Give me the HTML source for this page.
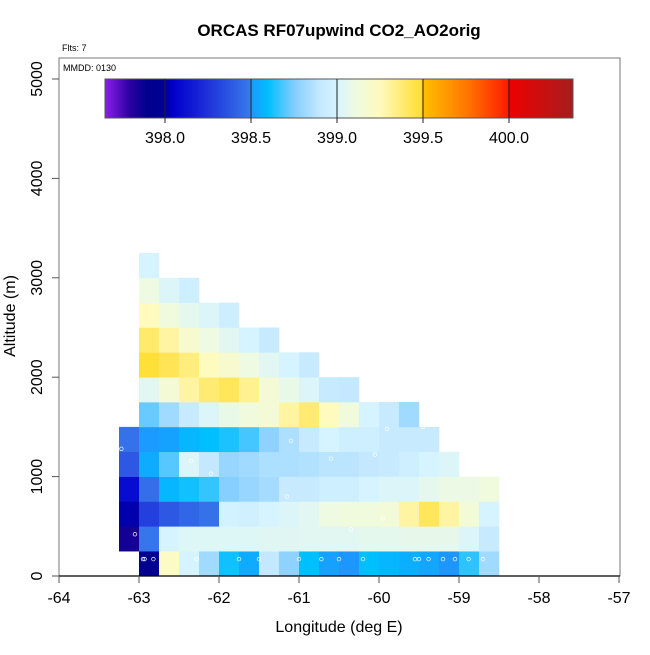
<!DOCTYPE html>
<html><head><meta charset="utf-8"><style>
html,body{margin:0;padding:0;background:#fff;}
svg text{font-family:"Liberation Sans",sans-serif;}
</style></head><body>
<svg id="chart" width="650" height="650" viewBox="0 0 650 650" xmlns="http://www.w3.org/2000/svg">
<rect width="650" height="650" fill="#fff"/>
<text x="339" y="36" text-anchor="middle" font-size="17" font-weight="bold">ORCAS RF07upwind CO2_AO2orig</text>
<text x="62" y="51" font-size="9">Flts: 7</text>
<g id="cells"></g>
<g id="marks"></g>
<rect x="59" y="58" width="561" height="518" fill="none" stroke="#777" stroke-width="1"/>
<line x1="59" y1="576" x2="620" y2="576" stroke="#000" stroke-width="1.2"/>
<text x="63" y="71" font-size="9">MMDD: 0130</text>
<g id="cbar"></g>
<g id="xaxis"></g>
<g id="yaxis"></g>
<text x="339" y="632" text-anchor="middle" font-size="16">Longitude (deg E)</text>
<text x="0" y="0" transform="translate(15,316) rotate(-90)" text-anchor="middle" font-size="16">Altitude (m)</text>
</svg>
<script>
const xTicks=[-64,-63,-62,-61,-60,-59,-58,-57];
const yTicks=[0,1000,2000,3000,4000,5000];
const cbTicks=[398.0,398.5,399.0,399.5,400.0];
const lonStart=-63.25, lonStep=0.25, altStep=250;
const row0=[null,397.95,399.22,399.0,398.82,398.62,398.55,398.9,398.78,398.6,398.53,398.5,398.6,398.58,398.56,398.54,398.5,398.65,398.82];
const row1=[397.85,398.48,399.0,399.03,399.03,399.03,399.03,399.04,399.04,399.05,399.05,399.05,399.06,399.06,399.07,399.07,399.07,399.02,398.92];
const row2=[398.02,398.3,398.38,398.43,398.47,398.98,398.97,399.0,399.02,399.05,399.1,399.12,399.12,399.14,399.3,399.42,399.3,399.14,399.0];
const row3=[398.1,398.46,398.58,398.62,398.66,398.76,398.8,398.83,398.92,398.92,398.96,398.96,399.0,399.02,399.02,399.06,399.09,399.09,399.12];
const row4=[398.38,398.55,398.7,399.02,398.9,398.8,398.82,398.85,398.85,398.86,398.88,398.88,398.9,398.92,398.96,399.0,399.02,null,null];
const row5=[398.47,398.51,398.53,398.58,398.6,398.63,398.68,398.78,398.85,398.92,399.0,398.96,398.96,398.92,398.92,398.92,null,null,null];
const row6=[null,398.72,398.82,398.92,399.02,399.08,399.12,399.15,399.3,399.38,399.25,399.12,399.0,398.92,398.82];
const row7=[null,399.05,399.15,399.3,399.38,399.42,399.33,399.15,399.08,399.02,398.92,398.9];
const row8=[null,399.48,399.43,399.36,399.25,399.18,399.1,399.05,399.0,398.92];
const row9=[null,399.39,399.3,399.18,399.1,399.05,399.0,398.92];
const row10=[null,399.25,399.12,399.06,399.02,398.95];
const row11=[null,399.1,399.02,398.96];
const row12=[null,399.0];
const rows=[row0,row1,row2,row3,row4,row5,row6,row7,row8,row9,row10,row11,row12];
const markLon=[-62.95,-62.93,-62.82,-62.28,-61.75,-61.5,-61.0,-60.72,-60.5,-60.2,-59.55,-59.5,-59.38,-59.2,-59.05,-58.88,-58.7,-63.22,-62.1,-60.6,-60.05,-59.45,-61.15,-63.05,-60.35,-62.35,-61.1,-59.95,-59.9];
const markAlt=[170,170,170,170,170,170,170,170,170,170,170,170,170,170,170,170,170,1280,1030,1180,1220,1500,800,420,470,1160,1360,580,1480];
const SVGNS="http://www.w3.org/2000/svg";
function xS(v){return 59+(v+64)*80;}
function yS(v){return 576-v*0.0994;}
function cbX(v){return 165+(v-398)*172;}
const stops=[[397.65,[140,30,235]],[397.8,[40,0,160]],[397.9,[0,0,139]],[398.0,[0,0,150]],[398.05,[0,0,205]],[398.2,[25,35,215]],[398.49,[55,120,235]],[398.5,[30,150,255]],[398.6,[0,191,255]],[398.75,[130,205,255]],[398.9,[195,232,255]],[399.0,[214,244,255]],[399.1,[238,250,226]],[399.25,[255,250,190]],[399.49,[255,222,50]],[399.5,[255,192,0]],[399.75,[255,120,0]],[399.99,[255,30,0]],[400.0,[238,0,0]],[400.38,[165,30,30]]];
function col(v){
  if(v<=stops[0][0])return 'rgb('+stops[0][1]+')';
  for(let i=1;i<stops.length;i++){if(v<=stops[i][0]){const a=stops[i-1],b=stops[i],t=(v-a[0])/(b[0]-a[0]);
    return 'rgb('+a[1].map((c,k)=>Math.round(c+(b[1][k]-c)*t)).join(',')+')';}}
  return 'rgb('+stops[stops.length-1][1]+')';
}
function mk(tag,attrs,parent){const e=document.createElementNS(SVGNS,tag);for(const k in attrs)e.setAttribute(k,attrs[k]);parent.appendChild(e);return e;}
const cells=document.getElementById('cells');
rows.forEach((r,ri)=>r.forEach((v,ci)=>{
  if(v===null||v===undefined)return;
  const x0=xS(lonStart+ci*lonStep),x1=xS(lonStart+(ci+1)*lonStep),y0=yS((ri+1)*altStep),y1=yS(ri*altStep);
  const e=mk('rect',{x:x0,y:y0,width:x1-x0+0.3,height:y1-y0+0.3,fill:col(v)},cells);
  
  
}));
const marks=document.getElementById('marks');
markLon.forEach((lo,i)=>{
  const e=mk('circle',{cx:xS(lo),cy:yS(markAlt[i]),r:1.8,fill:'none',stroke:'#fff','stroke-width':0.8,opacity:0.85},marks);
  
  
});
const cb=document.getElementById('cbar');
for(let px=105;px<573;px++){const v=398+(px+0.5-165)/172;mk('rect',{x:px,y:79,width:1.2,height:39,fill:col(v)},cb);}
mk('rect',{x:105,y:79,width:468,height:39,fill:'none',stroke:'#555','stroke-width':1},cb);
cbTicks.forEach(t=>{
  const x=cbX(t);
  mk('line',{x1:x,y1:79,x2:x,y2:123,stroke:'#222','stroke-width':1},cb);
  const tx=mk('text',{x:x,y:143,'text-anchor':'middle','font-size':16},cb);tx.textContent=t.toFixed(1);
  
  
});
const xa=document.getElementById('xaxis');
xTicks.forEach(t=>{
  const x=xS(t);
  mk('line',{x1:x,y1:576,x2:x,y2:583,stroke:'#555','stroke-width':1},xa);
  const tx=mk('text',{x:x,y:603,'text-anchor':'middle','font-size':16},xa);tx.textContent=t;
  
  
});
const ya=document.getElementById('yaxis');
yTicks.forEach(t=>{
  const y=yS(t);
  mk('line',{x1:52,y1:y,x2:59,y2:y,stroke:'#555','stroke-width':1},ya);
  const tx=mk('text',{x:0,y:0,transform:'translate(42,'+y+') rotate(-90)','text-anchor':'middle','font-size':16},ya);tx.textContent=t;
  
  
});
</script>
</body></html>
